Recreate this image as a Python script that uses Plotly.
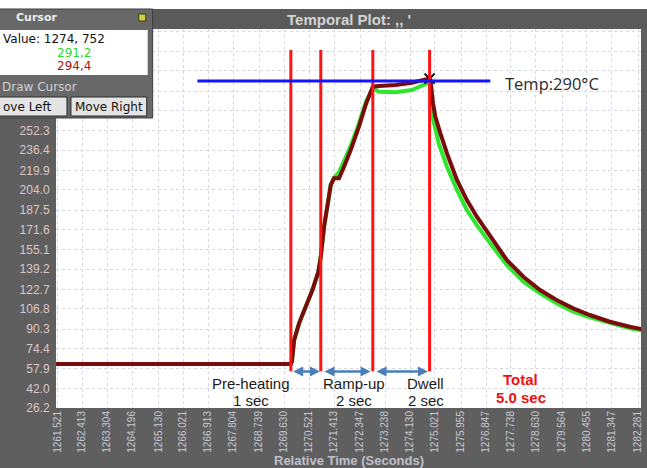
import plotly.graph_objects as go

# ---------------- data ----------------
tick_times = [1261.521, 1262.413, 1263.304, 1264.196, 1265.130, 1266.021, 1266.913,
              1267.804, 1268.739, 1269.630, 1270.521, 1271.413, 1272.347, 1273.238,
              1274.130, 1275.021, 1275.955, 1276.847, 1277.738, 1278.630, 1279.564,
              1280.455, 1281.347, 1282.281]
y_ticks = [26.2, 42.0, 57.9, 74.4, 90.3, 106.8, 122.7, 139.2, 155.1, 171.6, 187.5,
           204.0, 219.9, 236.4, 252.3, 268.8, 284.7, 301.2, 317.1, 333.6]
y_visible_max = 252.3   # labels above this are hidden behind the cursor panel

red_t = [1261.40, 1263.5, 1265.5, 1267.5, 1269.87, 1269.907, 1269.989, 1270.167, 1270.406,
         1270.641, 1270.855, 1270.940, 1271.058, 1271.175, 1271.297, 1271.414, 1271.592,
         1271.770, 1272.009, 1272.305, 1272.565, 1272.803, 1273.017, 1273.612, 1274.193,
         1274.752, 1274.86, 1274.952, 1275.037, 1275.215, 1275.450, 1275.807, 1276.163,
         1276.519, 1276.997, 1277.588, 1278.183, 1278.778, 1279.369, 1279.964, 1280.559,
         1281.272, 1281.984, 1282.458]
red_v = [62.0, 62.0, 62.0, 62.0, 62.0, 63.8, 81.5, 95.3, 108.6, 122.3, 137.2, 149.5, 173.9,
         193.0, 208.0, 213.4, 213.4, 222.9, 236.5, 255.6, 274.7, 288.2, 288.8, 289.6, 291.5,
         294.4, 293.7, 274.7, 263.7, 250.2, 233.9, 212.1, 195.7, 182.1, 165.8, 146.8, 133.1,
         122.3, 114.1, 107.3, 101.9, 96.4, 92.3, 90.2]

green_t = [1261.40, 1263.5, 1265.5, 1267.5, 1269.87, 1269.907, 1269.989, 1270.167, 1270.406,
           1270.641, 1270.855, 1270.940, 1271.058, 1271.175, 1271.297, 1271.414, 1271.592,
           1271.770, 1272.020, 1272.305, 1272.554, 1272.803, 1273.017, 1273.612, 1274.193,
           1274.752, 1274.83, 1274.880, 1274.977, 1275.155, 1275.450, 1275.807, 1276.163,
           1276.519, 1276.997, 1277.588, 1278.183, 1278.778, 1279.369, 1279.964, 1280.559,
           1281.272, 1281.984, 1282.458]
green_v = [62.0, 62.0, 62.0, 62.0, 62.0, 63.8, 81.5, 95.3, 108.6, 122.3, 137.2, 149.5, 173.9,
           193.0, 208.0, 214.0, 218.5, 227.5, 240.5, 258.5, 276.0, 286.9, 284.1, 283.6, 285.5,
           291.2, 292.5, 269.2, 258.3, 242.0, 222.9, 203.9, 187.6, 175.3, 160.4, 142.7, 129.0,
           119.6, 111.4, 104.6, 100.0, 95.1, 91.0, 89.1]

phase_bounds = [1269.87, 1270.94, 1272.80, 1274.83]
phase_names = ["Pre-heating", "Ramp-up", "Dwell"]
phase_durs = ["1 sec", "2 sec", "2 sec"]
total_text = ["Total", "5.0 sec"]
temp_target = 292.9
temp_label = "Temp:290°C"
cursor_time = "1274, 752"
cursor_green = "291,2"
cursor_red = "294,4"

# ---------------- geometry helpers (pixels -> paper) ----------------
W, H = 647, 468
L, R, T, B = 56, 643, 29, 408
def px(x):
    return (x - L) / (R - L)
def py(y):
    return (B - y) / (B - T)

FONT = "Liberation Sans"
PANEL_FONT = "DejaVu Sans"
fig = go.Figure()

fig.add_trace(go.Scatter(x=green_t, y=green_v, mode="lines",
                         line=dict(color="#2fe62f", width=4), hoverinfo="skip"))
fig.add_trace(go.Scatter(x=red_t, y=red_v, mode="lines",
                         line=dict(color="#7a0c0c", width=4), hoverinfo="skip"))

shapes = []
for t in phase_bounds:
    shapes.append(dict(type="line", xref="x", yref="y", x0=t, x1=t, y0=56.0, y1=318.2,
                       line=dict(color="#ff1414", width=3), layer="above"))
shapes.append(dict(type="line", xref="x", yref="y", x0=1266.53, x1=1277.0,
                   y0=temp_target, y1=temp_target,
                   line=dict(color="#1414ff", width=3), layer="above"))

# white strip on top
shapes.append(dict(type="rect", xref="paper", yref="paper", x0=px(-5), x1=px(652),
                   y0=py(9), y1=py(-5), fillcolor="white", line=dict(width=0), layer="above"))
# title bar
shapes.append(dict(type="rect", xref="paper", yref="paper", x0=px(152), x1=px(652),
                   y0=py(29), y1=py(9), fillcolor="#5a5a5a", line=dict(width=0), layer="above"))
# cursor panel
shapes.append(dict(type="rect", xref="paper", yref="paper", x0=px(-3), x1=px(153),
                   y0=py(118), y1=py(9), fillcolor="#686868",
                   line=dict(color="#3e3e3e", width=1), layer="above"))
shapes.append(dict(type="rect", xref="paper", yref="paper", x0=px(-3), x1=px(148),
                   y0=py(75), y1=py(30), fillcolor="white", line=dict(width=0), layer="above"))
shapes.append(dict(type="rect", xref="paper", yref="paper", x0=px(-3), x1=px(67),
                   y0=py(116), y1=py(97), fillcolor="#e4e4e4",
                   line=dict(color="#2a2a2a", width=1), layer="above"))
shapes.append(dict(type="rect", xref="paper", yref="paper", x0=px(71), x1=px(147),
                   y0=py(116), y1=py(97), fillcolor="#e4e4e4",
                   line=dict(color="#2a2a2a", width=1), layer="above"))
shapes.append(dict(type="rect", xref="paper", yref="paper", x0=px(139), x1=px(146),
                   y0=py(21), y1=py(14), fillcolor="#cfd23a",
                   line=dict(color="#3a3a10", width=1), layer="above"))

ann = []
def txt(x, y, s, size=12, color="black", bold=False, anchor="center", family=FONT):
    ann.append(dict(x=px(x), y=py(y), xref="paper", yref="paper",
                    text=("<b>%s</b>" % s) if bold else s,
                    showarrow=False, xanchor=anchor, yanchor="middle",
                    font=dict(family=family, size=size, color=color)))

# title and axis title
txt(350, 19.5, "Temporal Plot: ,, '", size=15, color="#d4d4d4", bold=True)
txt(350, 460.5, "Relative Time (Seconds)", size=13, color="#c0c0cc", bold=True)

# cursor panel texts
txt(14, 17, "Cursor", size=11, color="#ececec", bold=True, anchor="left", family=PANEL_FONT)
txt(1, 39, "Value: " + cursor_time, size=12, color="#111111", anchor="left", family=PANEL_FONT)
txt(55, 52.5, cursor_green, size=12, color="#2fd82f", anchor="left", family=PANEL_FONT)
txt(55, 66, cursor_red, size=12, color="#a01818", anchor="left", family=PANEL_FONT)
txt(0, 87, "Draw Cursor", size=12, color="#d2d2d2", anchor="left", family=PANEL_FONT)
txt(1, 106.5, "ove Left", size=12, color="#111111", anchor="left", family=PANEL_FONT)
txt(109, 106.5, "Move Right", size=12, color="#111111", family=PANEL_FONT)

# phase arrows
arrow_segs = [(phase_bounds[0] + 0.03, phase_bounds[1] - 0.03),
              (phase_bounds[1] + 0.08, phase_bounds[2] - 0.08),
              (phase_bounds[2] + 0.08, phase_bounds[3] - 0.06)]
for a, b in arrow_segs:
    ann.append(dict(x=b, y=55.8, ax=a, ay=55.8, xref="x", yref="y", axref="x", ayref="y",
                    text="", showarrow=True, arrowhead=2, arrowside="end+start",
                    arrowsize=0.8, arrowwidth=2.5, arrowcolor="#4a7ebb"))

# phase labels
label_x = [252, 355, 427]
for lx, nm, du in zip(label_x, phase_names, phase_durs):
    txt(lx, 383.5, nm, size=15, color="#1a1a1a")
    txt(lx, 400, du, size=15, color="#1a1a1a")
txt(522.5, 379, total_text[0], size=15, color="#ee1111", bold=True)
txt(522.5, 397, total_text[1], size=15, color="#ee1111", bold=True)

# temperature label
txt(505, 83.5, temp_label, size=16.5, color="#2a2a2a", anchor="left", family="Open Sans")

# cursor marker
fig.add_trace(go.Scatter(x=[1274.83], y=[294.8], mode="markers",
                         marker=dict(symbol="x-thin", size=10, line=dict(color="black", width=2)),
                         hoverinfo="skip"))

fig.update_layout(
    width=W, height=H, margin=dict(l=L, r=W - R, t=T, b=H - B),
    paper_bgcolor="#5f5f5f", plot_bgcolor="white", showlegend=False,
    shapes=shapes, annotations=ann,
    xaxis=dict(range=[1261.475, 1282.387], tickmode="array", tickvals=tick_times,
               ticktext=["%.3f" % t for t in tick_times], tickangle=-90,
               tickfont=dict(family=FONT, size=10, color="#c8c8d4"),
               showgrid=True, gridcolor="#d6d8e4", griddash="3px,3px", gridwidth=1,
               zeroline=False, showline=False, ticks=""),
    yaxis=dict(range=[26.0, 335.3], tickmode="array", tickvals=y_ticks,
               ticktext=[("%.1f" % v) if v <= y_visible_max else "" for v in y_ticks],
               tickfont=dict(family=FONT, size=12, color="#dcc6c6"),
               showgrid=True, gridcolor="#d6d8e4", griddash="3px,3px", gridwidth=1,
               zeroline=False, showline=False, ticks="outside", ticklen=3,
               tickcolor="rgba(0,0,0,0)"),
)

fig.write_html("out.html")
